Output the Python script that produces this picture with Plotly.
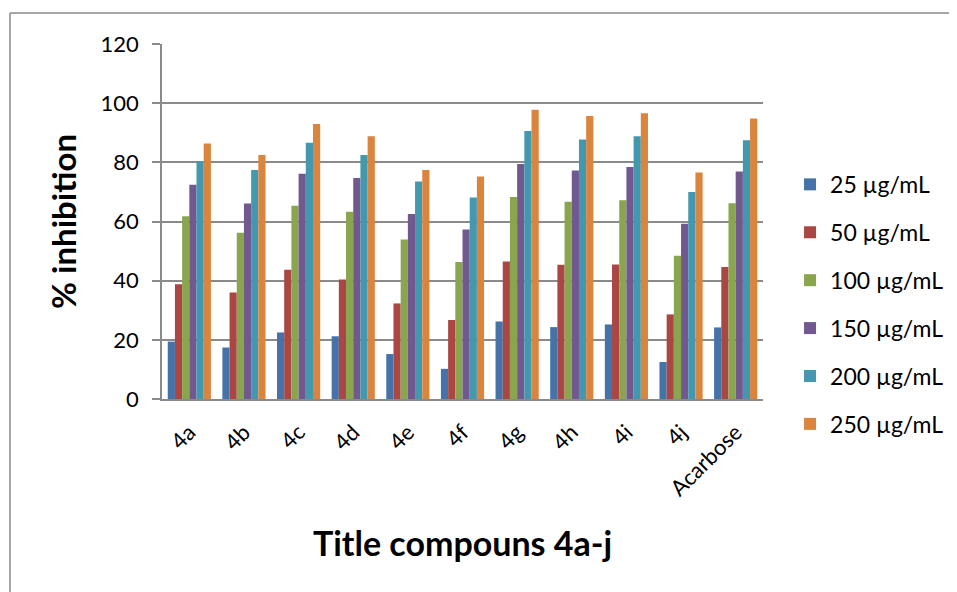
import plotly.graph_objects as go

categories = ["4a", "4b", "4c", "4d", "4e", "4f", "4g", "4h", "4i", "4j", "Acarbose"]
series_names = ["25 µg/mL", "50 µg/mL", "100 µg/mL", "150 µg/mL", "200 µg/mL", "250 µg/mL"]
s25 = [19.4, 17.4, 22.5, 21.2, 15.2, 10.2, 26.2, 24.3, 25.2, 12.5, 24.2]
s50 = [38.8, 36.0, 43.7, 40.4, 32.3, 26.7, 46.5, 45.4, 45.5, 28.6, 44.6]
s100 = [61.8, 56.2, 65.3, 63.3, 53.9, 46.3, 68.3, 66.7, 67.2, 48.4, 66.2]
s150 = [72.4, 66.1, 76.1, 74.7, 62.5, 57.3, 79.4, 77.2, 78.4, 59.2, 76.9]
s200 = [80.4, 77.4, 86.6, 82.5, 73.5, 68.1, 90.6, 87.7, 88.8, 70.0, 87.5]
s250 = [86.4, 82.5, 93.0, 88.8, 77.4, 75.2, 97.8, 95.7, 96.6, 76.6, 94.8]
y_ticks = [0, 20, 40, 60, 80, 100, 120]

colors = ["#4572A7", "#AA4643", "#89A54E", "#71588F", "#4198AF", "#DB843D"]
FONT = "Lato, 'Open Sans', sans-serif"
GRID = "#8a8a8a"

fig = go.Figure()
for i, (name, vals) in enumerate(zip(series_names, [s25, s50, s100, s150, s200, s250])):
    fig.add_trace(go.Bar(
        x=categories, y=vals, name=name, legendgroup=f"g{i}",
        marker=dict(color=colors[i], line=dict(width=0)),
    ))

bx = (10 - 162) / 601
by = (399 - 13) / 355

fig.update_layout(
    width=957, height=592,
    margin=dict(l=154, r=202, t=36, b=201),
    paper_bgcolor="white", plot_bgcolor="white",
    barmode="group", bargap=0.21, bargroupgap=0,
    font=dict(family=FONT, color="black", size=22),
    showlegend=True,
    legend=dict(
        x=1.045, xanchor="left", y=0.665, yanchor="top",
        font=dict(family=FONT, size=23, color="black"),
        tracegroupgap=15, itemsizing="constant", itemwidth=30,
        bgcolor="rgba(0,0,0,0)",
    ),
    xaxis=dict(
        type="category", tickangle=-45, showline=True, linecolor=GRID, linewidth=1.5,
        ticks="", showgrid=False, ticklabelstandoff=10,
        tickfont=dict(family=FONT, size=22, color="black"),
        title=dict(text="<b>Title compouns 4a-j</b>", font=dict(family=FONT, size=34, color="black"), standoff=32),
    ),
    yaxis=dict(
        range=[0, 120], tickvals=y_ticks, showline=True, linecolor=GRID, linewidth=1.5,
        ticks="outside", ticklen=8, tickcolor=GRID, tickwidth=1.5, ticklabelstandoff=9,
        showgrid=True, gridcolor=GRID, gridwidth=1.5, zeroline=False,
        tickfont=dict(family=FONT, size=22, color="black"),
        title=dict(text="<b>% inhibition</b>", font=dict(family=FONT, size=33, color="black"), standoff=14),
    ),
    shapes=[
        dict(type="line", xref="paper", yref="paper", x0=bx, x1=bx, y0=-1.0, y1=by,
             line=dict(color=GRID, width=1.5), layer="below"),
        dict(type="line", xref="paper", yref="paper", x0=bx, x1=1.5, y0=by, y1=by,
             line=dict(color=GRID, width=1.5), layer="below"),
    ],
)

fig.write_html("out.html")
